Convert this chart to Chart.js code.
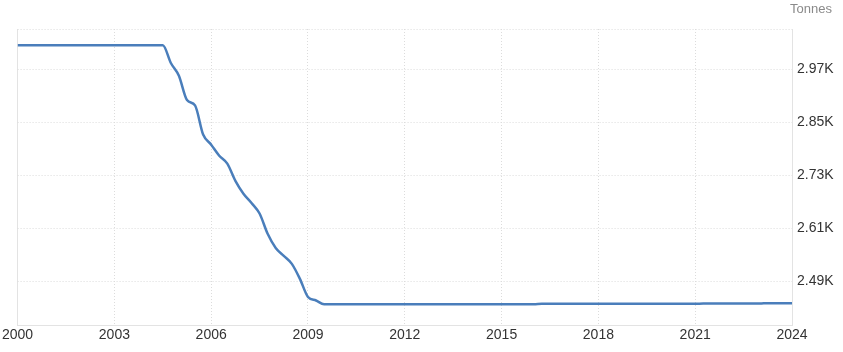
<!DOCTYPE html>
<html>
<head>
<meta charset="utf-8">
<script src="https://cdn.jsdelivr.net/npm/chart.js@4/dist/chart.umd.min.js"></script>
<style>
  html, body { margin: 0; padding: 0; background: #fff; }
  #wrap { position: relative; width: 843px; height: 352px; }
</style>
</head>
<body>
<div id="wrap"><canvas id="myChart"></canvas></div>
<script>
// gold reserves, tonnes
var years = [2000, 2004.5, 2004.75, 2005, 2005.25, 2005.5, 2005.75, 2006, 2006.25, 2006.5,
  2006.75, 2007, 2007.25, 2007.5, 2007.75, 2008, 2008.25, 2008.5, 2008.75, 2009,
  2009.25, 2009.5, 2016, 2016.25, 2021, 2021.25, 2023, 2023.25, 2024];
var tonnes = [3025, 3025, 2985, 2956, 2901, 2889, 2823, 2800, 2775, 2757,
  2718, 2689, 2668, 2644, 2598, 2566, 2548, 2530, 2496, 2455,
  2447, 2438.5, 2438.5, 2439.5, 2439.5, 2440, 2440, 2441, 2441];

var yTicks = [2490, 2610, 2730, 2850, 2970];
var yMin = 2391.5;
var yMax = 3062;
var xMin = 2000;
var xMax = 2024;
var xStep = 3;
var unitLabel = "Tonnes";

var gridColor = "#dcdcdc";
var axisColor = "#e3e3e3";
var tickFont = { family: "'Liberation Sans', Arial, sans-serif", size: 14 };

// little label in the top right corner
var unitPlugin = {
  id: "unitLabel",
  afterDraw: function(chart) {
    var ctx = chart.ctx;
    ctx.save();
    ctx.font = "13px 'Liberation Sans', Arial, sans-serif";
    ctx.fillStyle = "#8a8a8a";
    ctx.textAlign = "right";
    ctx.textBaseline = "middle";
    ctx.fillText(unitLabel, chart.width - 11, 9);
    ctx.restore();
  }
};

var points = years.map(function(y, i) {
  return { x: y, y: tonnes[i] };
});

var ctx = document.getElementById("myChart").getContext("2d");
var myChart = new Chart(ctx, {
  type: "line",
  data: {
    datasets: [
      {
        label: unitLabel,
        data: points,
        borderColor: "#4a7ebb",
        borderWidth: 2.5,
        pointRadius: 0,
        fill: false,
        cubicInterpolationMode: "monotone"
      }
    ]
  },
  options: {
    responsive: true,
    maintainAspectRatio: false,
    animation: false,
    layout: { padding: { top: 29, left: 17, right: 0, bottom: 0 } },
    plugins: {
      legend: { display: false },
      tooltip: { enabled: false }
    },
    scales: {
      x: {
        type: "linear",
        min: xMin,
        max: xMax,
        afterFit: function(s) { s.height = 27; },
        ticks: {
          stepSize: xStep,
          color: "#333",
          font: tickFont,
          padding: 2,
          maxRotation: 0,
          callback: function(v) { return String(v); }
        },
        grid: {
          color: function(c) { return c.index === 0 ? axisColor : gridColor; },
          drawTicks: false
        },
        border: {
          display: true,
          color: axisColor,
          dash: function(c) { return c.index === 0 ? [] : [1, 2]; }
        }
      },
      y: {
        position: "right",
        min: yMin,
        max: yMax,
        afterBuildTicks: function(s) {
          s.ticks = yTicks.concat([yMax]).map(function(v) { return { value: v }; });
        },
        afterFit: function(s) { s.width = 51; },
        ticks: {
          color: "#333",
          font: tickFont,
          padding: 5,
          callback: function(v) {
            return yTicks.indexOf(v) >= 0 ? (v / 1000).toFixed(2) + "K" : "";
          }
        },
        grid: { color: gridColor, drawTicks: false },
        border: { display: true, color: axisColor, dash: [1, 2] }
      }
    }
  },
  plugins: [unitPlugin]
});
</script>
</body>
</html>
